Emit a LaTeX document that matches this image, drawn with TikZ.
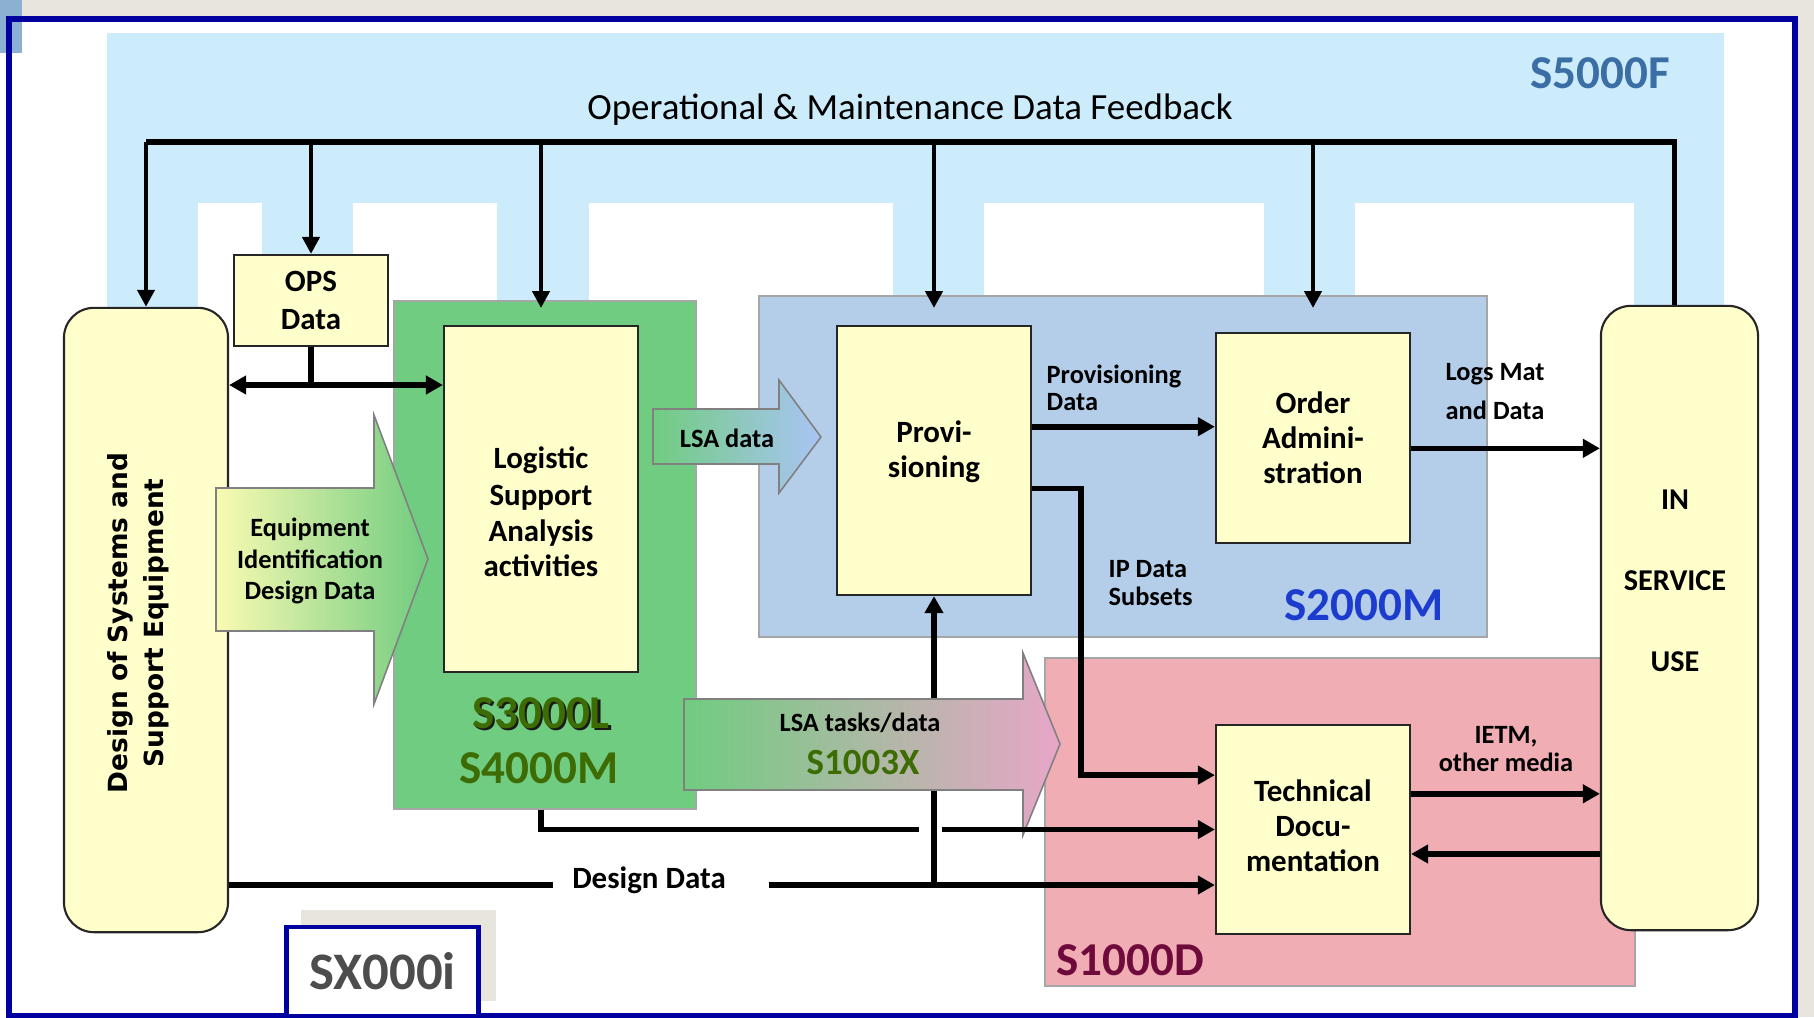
\documentclass[tikz,border=0pt]{standalone}
\usepackage{fontspec}
\setmainfont{Carlito}
\newfontfamily\verdana{DejaVu Sans}
\usetikzlibrary{arrows.meta}

\definecolor{feedblue}{RGB}{204,236,252}
\definecolor{lsagreen}{RGB}{112,204,128}
\definecolor{provblue}{RGB}{180,206,234}
\definecolor{docpink}{RGB}{240,174,180}
\definecolor{boxyellow}{RGB}{255,255,204}
\definecolor{paleyellow}{RGB}{250,250,178}
\definecolor{lsadatablue}{RGB}{170,196,246}
\definecolor{taskpink}{RGB}{232,166,200}
\definecolor{framegrey}{RGB}{232,228,222}
\definecolor{frameblue}{RGB}{0,0,160}
\definecolor{cornerblue}{RGB}{140,176,210}
\definecolor{sfeedtext}{RGB}{58,110,165}
\definecolor{sprovtext}{RGB}{28,60,205}
\definecolor{sdoctext}{RGB}{110,10,60}
\definecolor{slsatext}{RGB}{62,108,4}
\definecolor{sxtext}{RGB}{77,77,77}

\begin{document}
\begin{tikzpicture}[x=0.01cm, y=-0.01cm,
    box/.style={draw=black!85, line width=0.6pt, fill=boxyellow, inner sep=0pt},
    boxtext/.style={align=center, inner sep=0pt, font=\fontsize{8.8}{10}\selectfont\bfseries},
    region/.style={draw=black!35, line width=0.45pt, inner sep=0pt},
    blockarrow/.style={draw=black!50, line width=0.45pt},
    tag/.style={inner sep=0pt, font=\fontsize{7.5}{7.7}\selectfont\bfseries},
    spec/.style={inner sep=0pt, font=\fontsize{13.4}{14}\selectfont\bfseries},
    dataflow/.style={line width=1.6pt, -{Triangle[length=0.17cm,width=0.18cm]}},
    twoway/.style={line width=1.6pt, {Triangle[length=0.17cm,width=0.18cm]}-{Triangle[length=0.17cm,width=0.18cm]}},
    feeddrop/.style={line width=1.3pt, -{Triangle[length=0.17cm,width=0.17cm]}}]

\useasboundingbox (0,0) rectangle (1814,1017);

% window and frame
\fill[framegrey] (0,0) rectangle (1814,1017);
\fill[white] (0,19) rectangle (1795,1017);
\fill[cornerblue] (0,0) rectangle (22,53);
\draw[frameblue, line width=1.45pt] (9,19) rectangle (1795,1015.5);

% S5000F feedback band with its white notches
\fill[feedblue] (107,33) rectangle (1724,310);
\foreach \a/\b in {198/262, 353/497, 589/893, 984/1264, 1355/1634}
  \fill[white] (\a,203) rectangle (\b,310);

% specification regions
\node[region, fill=lsagreen, minimum width=3.02cm, minimum height=5.08cm] (s3000) at (545,555) {};
\node[region, fill=provblue, minimum width=7.28cm, minimum height=3.41cm] (s2000) at (1123,466.5) {};
\node[region, fill=docpink, minimum width=5.9cm, minimum height=3.28cm] (s1000) at (1340,822) {};

% boxes
\node[box, rounded corners=0.3cm, minimum width=1.64cm, minimum height=6.24cm] (design) at (146,620) {};
\node[box, minimum width=1.54cm, minimum height=0.91cm] (ops) at (311,300.5) {};
\node[box, minimum width=1.94cm, minimum height=3.46cm] (lsa) at (541,499) {};
\node[box, minimum width=1.94cm, minimum height=2.69cm] (prov) at (934,460.5) {};
\node[box, minimum width=1.94cm, minimum height=2.10cm] (order) at (1313,438) {};
\node[box, minimum width=1.94cm, minimum height=2.09cm] (techdoc) at (1313,829.5) {};
\node[box, rounded corners=0.3cm, minimum width=1.57cm, minimum height=6.24cm] (inservice) at (1679.5,618) {};

\node[rotate=90, align=center, inner sep=0pt, font=\verdana\fontsize{7.5}{10.2}\selectfont\bfseries]
  (designtxt) at ([xshift=-0.08cm, yshift=-0.03cm]design.center) {Design of Systems and\\Support Equipment};
\node[boxtext] (opstxt) at (ops.center) {OPS\\[1pt]Data};
\node[boxtext] (lsatxt) at ([yshift=-0.13cm]lsa.center) {Logistic\\[0.4pt]Support\\[0.4pt]Analysis\\activities};
\node[boxtext] (provtxt) at ([yshift=0.09cm]prov.center) {Provi-\\sioning};
\node[boxtext] (ordertxt) at (order.center) {Order\\Admini-\\stration};
\node[boxtext] (techdoctxt) at ([yshift=0.04cm]techdoc.center) {Technical\\Docu-\\mentation};
\node[boxtext, font=\fontsize{8.6}{23}\selectfont\bfseries] (inservicetxt)
  at ([xshift=-0.045cm, yshift=0.37cm]inservice.center) {IN\\SERVICE\\USE};

% SX000i tab
\fill[framegrey] (301,910) rectangle (496,1001);
\node[draw=frameblue, line width=1.4pt, fill=white, minimum width=1.91cm, minimum height=0.89cm,
      text=sxtext, font=\fontsize{15}{15}\selectfont\bfseries] (sx) at (382.5,971.5) {SX000i};

% design data also feeds provisioning (runs under the S1003X arrow)
\coordinate (dd) at (0,885);
\draw[dataflow] (prov.south |- dd) -- (prov.south);

% block arrows
\path[blockarrow, left color=paleyellow, right color=lsagreen]
  (216,488) -- (374,488) -- (374,415) -- (428,559) -- (374,704) -- (374,631) -- (216,631) -- cycle;
\node[tag, align=center, font=\fontsize{7.5}{9}\selectfont\bfseries] (equiptxt) at (310,561)
  {Equipment\\Identification\\Design Data};

\path[blockarrow, left color=lsagreen, right color=lsadatablue]
  (653,409) -- (779,409) -- (779,380) -- (821,437) -- (779,493) -- (779,464) -- (653,464) -- cycle;
\node[tag] (lsadatatxt) at (727,438) {LSA data};

\path[blockarrow, left color=lsagreen, right color=taskpink]
  (684,699) -- (1023,699) -- (1023,653) -- (1060,744) -- (1023,835) -- (1023,790) -- (684,790) -- cycle;
\node[tag] (taskstxt) at (860,723) {LSA tasks/data};
\node[inner sep=0pt, text=slsatext, font=\fontsize{10.5}{11}\selectfont\bfseries] (s1003) at (863,763) {S1003X};

% feedback bus
\coordinate (fb) at (0,142);
\coordinate (tips) at (0,308);
\draw[line width=1.6pt] ([xshift=-0.05cm]inservice.north) |- (design.north |- fb);
\foreach \n in {design, ops}
  \draw[feeddrop] (\n.north |- fb) -- (\n.north);
\foreach \n in {lsa, prov, order}
  \draw[feeddrop] (\n.north |- fb) -- (\n.north |- tips);

% data flows
\coordinate (opsj) at (315,385);
\coordinate (ipcol) at (1081,489);
\draw[line width=1.6pt] (ops.south) -- (ops.south |- opsj);
\draw[twoway] (design.east |- opsj) -- (lsa.west |- opsj);
\draw[dataflow] (prov.19) -- (prov.19 -| order.west);
\draw[dataflow] (prov.-16) -| (ipcol |- techdoc.151) -- (techdoc.151);
\draw[dataflow] (order.-6) -- (order.-6 -| inservice.west);
\draw[dataflow] (techdoc.20) -- (techdoc.20 -| inservice.west);
\draw[dataflow] (techdoc.-14 -| inservice.west) -- (techdoc.-14);
\draw[line width=1.6pt] (lsa.south |- s3000.south) |- ([xshift=-0.15cm]prov.south |- techdoc.west);
\draw[dataflow] ([xshift=0.08cm]prov.south |- techdoc.west) -- (techdoc.west);
\draw[dataflow] (design.east |- dd) -- (techdoc.west |- dd);
\node[fill=white, inner sep=0pt, minimum width=2.16cm, minimum height=0.2cm] (ddgap) at (661,885) {};
\node[inner sep=0pt, font=\fontsize{8.8}{10}\selectfont\bfseries] (ddtxt) at (649,880) {Design Data};

% labels
\node[font=\fontsize{10.5}{12}\selectfont, inner sep=0pt] (title) at (910,110) {Operational \& Maintenance Data Feedback};
\node[tag, anchor=west, align=left] (provdatatxt) at (1046,388) {Provisioning\\Data};
\node[tag, anchor=west, align=left, font=\fontsize{7.5}{11.1}\selectfont\bfseries] (logstxt) at (1445,392) {Logs Mat\\and Data};
\node[tag, anchor=west, align=left] (iptxt) at (1108,583) {IP Data\\Subsets};
\node[tag, align=center] (ietmtxt) at (1506,749) {IETM,\\other media};

\node[spec, text=sfeedtext] (s5000lbl) at (1600,73) {S5000F};
\node[spec, text=sprovtext] (s2000lbl) at (1364,605) {S2000M};
\node[spec, text=sdoctext] (s1000lbl) at (1130,960) {S1000D};
\node[spec, text=black!90] (s3000shadow) at (543.5,715.5) {S3000L};
\node[spec, text=slsatext] (s3000lbl) at (541,713) {S3000L};
\node[spec, text=slsatext] (s4000lbl) at (539,768) {S4000M};

\end{tikzpicture}
\end{document}
